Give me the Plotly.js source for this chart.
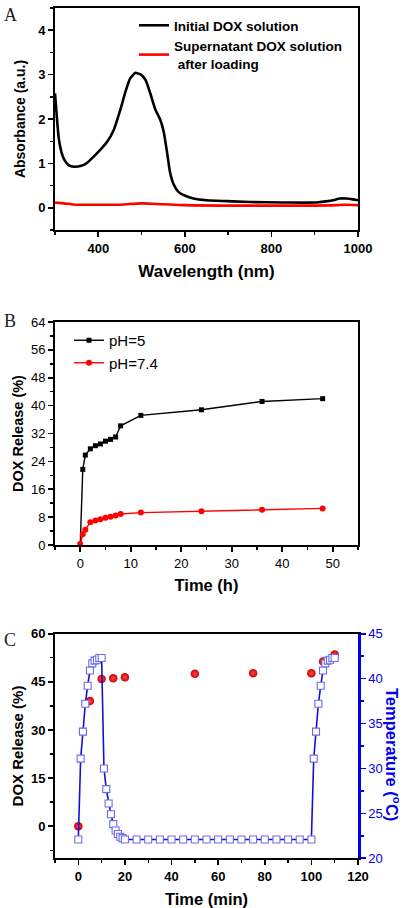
<!DOCTYPE html>
<html>
<head>
<meta charset="utf-8">
<script src="https://cdn.plot.ly/plotly-3.0.1.min.js"></script>
<style>html,body{margin:0;padding:0;background:#fff;}#chart{width:407px;height:908px;}</style>
</head>
<body>
<div id="chart"></div>
<script>
// ---- Panel A: UV-vis absorbance ----
const wavelengthInitial = [300,305,309,315,321,332,344,359,374,390,405,420,436,451,463,474,486,490,497,509,520,532,543,551,559,566,574,585,601,620,651,697,750,827,904,931,942,958,973,988,1000];
const absorbInitial = [2.58,1.95,1.54,1.25,1.09,0.955,0.925,0.94,1.01,1.16,1.31,1.48,1.76,2.21,2.62,2.92,3.04,3.03,3.01,2.88,2.58,2.21,1.99,1.72,1.24,0.79,0.53,0.36,0.27,0.21,0.17,0.15,0.13,0.12,0.12,0.15,0.17,0.21,0.21,0.19,0.17];
const wavelengthSuper = [300,320,350,400,450,500,550,600,700,800,900,950,970,1000];
const absorbSuper = [0.12,0.10,0.07,0.07,0.07,0.10,0.08,0.06,0.05,0.05,0.05,0.06,0.07,0.06];
const legendA = ["Initial DOX solution", "Supernatant DOX solution<br> after loading"];

// ---- Panel B: pH-dependent release ----
const timeH = [0,0.5,1,2,3,4,5,6,7,8,12,24,36,48];
const releasePH5 = [0,21.7,25.8,27.6,28.5,29.0,29.8,30.3,31.0,34.2,37.2,38.8,41.2,42.0];
const releasePH74 = [0.3,3.1,4.4,6.5,7.0,7.4,7.8,8.1,8.5,8.9,9.3,9.7,10.1,10.5];
const legendB = ["pH=5", "pH=7.4"];

// ---- Panel C: NIR-triggered release & temperature ----
const timeTemp = [0,1,2,3,4,5,6,7,8,9,10,11,12,13,14,15,16,17,18,19,20,25,30,35,40,45,50,55,60,65,70,75,80,85,90,95,100,101,102,103,104,105,106,107,108,109,110];
const temperature = [22.1,31.1,34.1,37.2,39.2,40.9,41.7,42.0,42.1,42.3,42.3,30.0,27.7,26.1,24.9,23.8,23.1,22.7,22.4,22.25,22.1,22.1,22.1,22.1,22.1,22.1,22.1,22.1,22.1,22.1,22.1,22.1,22.1,22.1,22.1,22.1,22.1,31.1,34.1,37.2,39.2,40.9,41.7,42.0,42.1,42.3,42.3];
const timeRelease = [0,5,10,15,20,50,75,100,105,110];
const releaseC = [0,39.0,45.9,46.1,46.4,47.5,47.7,47.7,51.3,53.5];

const FONT = "Liberation Sans, Arial, sans-serif";
const SERIF = "Liberation Serif, Times New Roman, serif";

const traces = [
  {x: wavelengthInitial, y: absorbInitial, type: 'scatter', mode: 'lines', name: legendA[0],
   line: {color: '#000000', width: 2.6, shape: 'spline', smoothing: 0.6}, xaxis: 'x', yaxis: 'y', legend: 'legend'},
  {x: wavelengthSuper, y: absorbSuper, type: 'scatter', mode: 'lines', name: legendA[1],
   line: {color: '#ff0000', width: 2.6, shape: 'spline', smoothing: 0.8}, xaxis: 'x', yaxis: 'y', legend: 'legend'},
  {x: timeH, y: releasePH5, type: 'scatter', mode: 'lines+markers', name: legendB[0],
   line: {color: '#000000', width: 1.4}, marker: {symbol: 'square', size: 5, color: '#000000'},
   xaxis: 'x2', yaxis: 'y2', legend: 'legend2'},
  {x: timeH, y: releasePH74, type: 'scatter', mode: 'lines+markers', name: legendB[1],
   line: {color: '#ff0000', width: 1.4}, marker: {symbol: 'circle', size: 6, color: '#ff0000'},
   xaxis: 'x2', yaxis: 'y2', legend: 'legend2'},
  {x: timeRelease, y: releaseC, type: 'scatter', mode: 'markers', name: 'DOX release', showlegend: false,
   marker: {symbol: 'circle', size: 8.5, color: '#d00000', gradient: {type: 'radial', color: '#ff4a4a'}, line: {width: 0}},
   xaxis: 'x3', yaxis: 'y3'},
  {x: timeTemp, y: temperature, type: 'scatter', mode: 'lines+markers', name: 'Temperature', showlegend: false,
   line: {color: '#1212d0', width: 1.6},
   marker: {symbol: 'square', size: 7, color: '#ffffff', line: {color: '#6a6aef', width: 1.1}},
   xaxis: 'x3', yaxis: 'y4'}
];

const W = 407, H = 908;
const L = 55/W, R = 358/W;
function py(pix) { return 1 - pix / H; }

function axisBase(extra) {
  return Object.assign({
    showgrid: false, zeroline: false, showline: true, linecolor: '#000', linewidth: 2,
    mirror: true, ticks: 'outside', ticklen: 5, tickwidth: 1.6, tickcolor: '#000',
    tickfont: {family: FONT, size: 13, color: '#000', weight: 'bold'},
    automargin: false, fixedrange: true
  }, extra);
}

const layout = {
  width: W, height: H,
  margin: {l: 0, r: 0, t: 0, b: 0},
  paper_bgcolor: '#ffffff', plot_bgcolor: '#ffffff',
  font: {family: FONT, color: '#000'},
  // Panel A
  xaxis: axisBase({domain: [L, R], anchor: 'y', range: [300, 1000], dtick: 200, tick0: 0,
    minor: {dtick: 100, ticks: 'outside', ticklen: 3, tickwidth: 1.4, tickcolor: '#000'},
    title: {text: 'Wavelength (nm)', font: {family: FONT, size: 17, weight: 'bold'}, standoff: 11}}),
  yaxis: axisBase({domain: [py(230), py(8)], anchor: 'x', range: [-0.5, 4.5], dtick: 1, tick0: 0,
    minor: {dtick: 0.5, ticks: 'outside', ticklen: 3, tickwidth: 1.4, tickcolor: '#000'},
    title: {text: 'Absorbance (a.u.)', font: {family: FONT, size: 14, weight: 'bold'}, standoff: 9}}),
  // Panel B
  xaxis2: axisBase({domain: [L, R], anchor: 'y2', range: [-5, 55], dtick: 10, tick0: 0,
    tickfont: {family: FONT, size: 13, color: '#000'},
    minor: {dtick: 5, ticks: 'outside', ticklen: 3, tickwidth: 1.4, tickcolor: '#000'},
    title: {text: 'Time (h)', font: {family: FONT, size: 16.5, weight: 'bold'}, standoff: 10}}),
  yaxis2: axisBase({domain: [py(545), py(322)], anchor: 'x2', range: [0, 64], dtick: 8, tick0: 0,
    tickfont: {family: FONT, size: 13, color: '#000'},
    minor: {dtick: 4, ticks: 'outside', ticklen: 3, tickwidth: 1.4, tickcolor: '#000'},
    title: {text: 'DOX Release (%)', font: {family: FONT, size: 14.5, weight: 'bold'}, standoff: 4}}),
  // Panel C
  xaxis3: axisBase({domain: [L, R], anchor: 'y3', range: [-10, 120], dtick: 20, tick0: 0,
    minor: {dtick: 10, ticks: 'outside', ticklen: 3, tickwidth: 1.4, tickcolor: '#000'},
    title: {text: 'Time (min)', font: {family: FONT, size: 16.5, weight: 'bold'}, standoff: 11}}),
  yaxis3: axisBase({domain: [py(858.3), py(633.7)], anchor: 'x3', range: [-10, 60], dtick: 15, tick0: 0,
    mirror: false,
    minor: {dtick: 7.5, ticks: 'outside', ticklen: 3, tickwidth: 1.4, tickcolor: '#000'},
    title: {text: 'DOX Release (%)', font: {family: FONT, size: 15, weight: 'bold'}, standoff: 4}}),
  yaxis4: axisBase({domain: [py(858.3), py(633.7)], anchor: 'x3', overlaying: 'y3', side: 'right',
    range: [20, 45], dtick: 5, tick0: 0, mirror: false, linecolor: '#0000ee', linewidth: 2.6, tickcolor: '#0000ee',
    tickfont: {family: FONT, size: 13, color: '#0000ee'},
    minor: {dtick: 2.5, ticks: 'outside', ticklen: 3, tickwidth: 1.4, tickcolor: '#0000ee'}}),
  legend: {x: 134/W, y: py(10), xanchor: 'left', yanchor: 'top', bgcolor: 'rgba(0,0,0,0)', borderwidth: 0,
    font: {family: FONT, size: 13.5, weight: 'bold', color: '#000'}, tracegroupgap: 0},
  legend2: {x: 69/W, y: py(324), xanchor: 'left', yanchor: 'top', bgcolor: 'rgba(0,0,0,0)', borderwidth: 0,
    font: {family: FONT, size: 15, color: '#000'}},
  annotations: [
    {text: 'A', xref: 'paper', yref: 'paper', x: 2/W, y: py(3), xanchor: 'left', yanchor: 'top', showarrow: false,
     font: {family: SERIF, size: 18, color: '#222'}},
    {text: 'B', xref: 'paper', yref: 'paper', x: 2/W, y: py(309), xanchor: 'left', yanchor: 'top', showarrow: false,
     font: {family: SERIF, size: 18, color: '#222'}},
    {text: 'C', xref: 'paper', yref: 'paper', x: 2/W, y: py(628), xanchor: 'left', yanchor: 'top', showarrow: false,
     font: {family: SERIF, size: 18, color: '#222'}},
    {text: 'Temperature (<sup>o</sup>C)', xref: 'paper', yref: 'paper', x: 393/W, y: py(754), xanchor: 'center', yanchor: 'middle',
     textangle: 90, showarrow: false, font: {family: FONT, size: 16.5, weight: 'bold', color: '#0000ee'}}
  ],
  showlegend: true
};

Plotly.newPlot('chart', traces, layout, {staticPlot: true, displayModeBar: false});
</script>
</body>
</html>
